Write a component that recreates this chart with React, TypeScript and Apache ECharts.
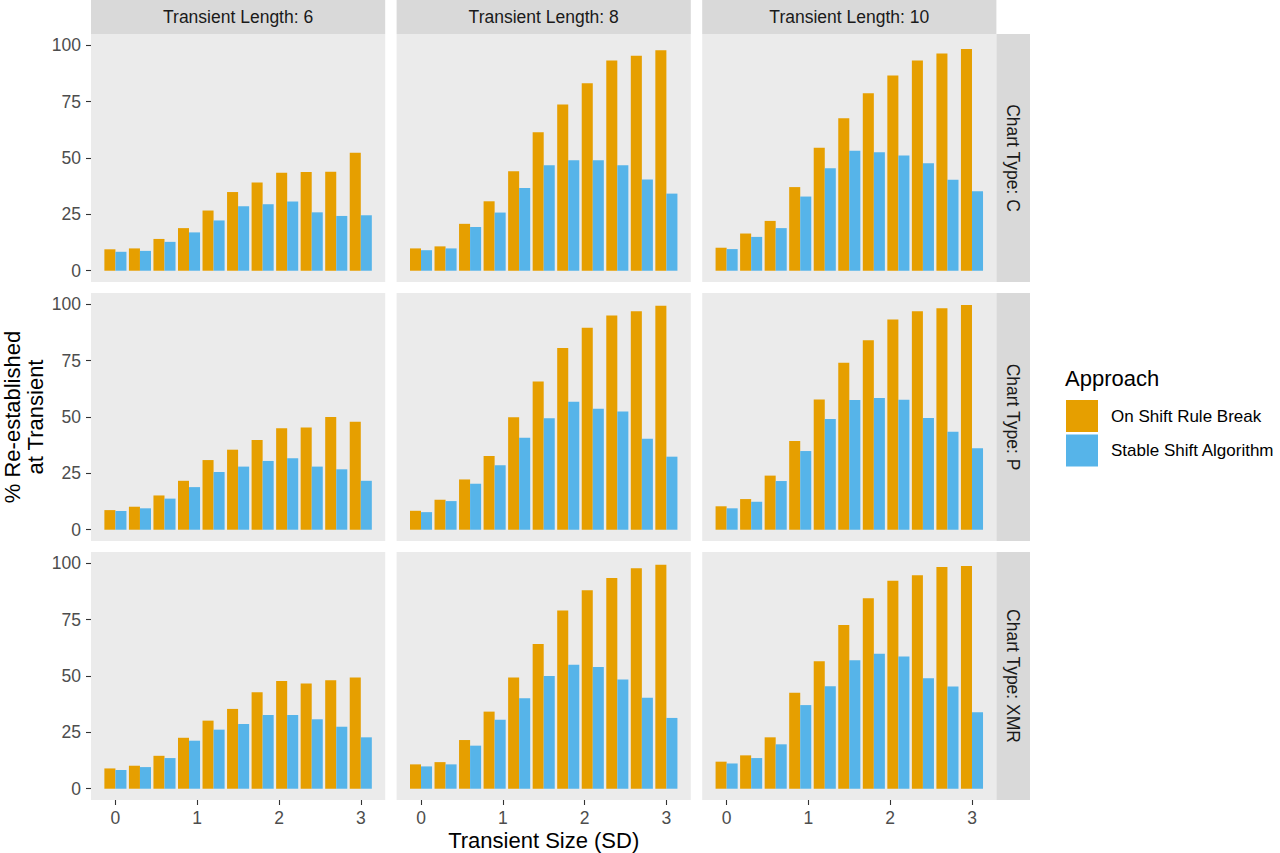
import React, { useEffect, useRef } from "react";
import * as echarts from "echarts";

// ---------- data ----------
const transientSizes = [0, 0.3, 0.6, 0.9, 1.2, 1.5, 1.8, 2.1, 2.4, 2.7, 3.0];
const lengthLabels = ["Transient Length: 6", "Transient Length: 8", "Transient Length: 10"];
const chartTypeLabels = ["Chart Type: C", "Chart Type: P", "Chart Type: XMR"];
const approaches = ["On Shift Rule Break", "Stable Shift Algorithm"];
const yTicks = [0, 25, 50, 75, 100];
const xTicks = [0, 1, 2, 3];

const cL6Rule = [9.5, 9.9, 14.1, 18.9, 26.7, 34.9, 39.1, 43.5, 43.8, 43.9, 52.3];
const cL6Stable = [8.4, 8.8, 12.8, 17.0, 22.3, 28.6, 29.5, 30.7, 25.9, 24.3, 24.6];
const cL8Rule = [9.9, 10.8, 20.8, 30.8, 44.1, 61.4, 73.7, 83.2, 93.2, 95.4, 97.8];
const cL8Stable = [9.1, 9.9, 19.4, 25.8, 36.7, 46.8, 49.0, 49.0, 46.8, 40.5, 34.2];
const cL10Rule = [10.2, 16.5, 22.1, 37.1, 54.5, 67.6, 78.7, 86.6, 93.2, 96.3, 98.4];
const cL10Stable = [9.6, 15.0, 18.9, 32.9, 45.4, 53.2, 52.5, 51.1, 47.7, 40.4, 35.2];

const pL6Rule = [8.7, 10.2, 15.2, 21.7, 30.9, 35.5, 39.8, 45.0, 45.3, 50.0, 47.9];
const pL6Stable = [8.3, 9.5, 13.8, 18.9, 25.6, 28.0, 30.5, 31.7, 28.0, 26.8, 21.7];
const pL8Rule = [8.4, 13.3, 22.3, 32.7, 49.9, 65.8, 80.6, 89.6, 95.0, 96.9, 99.3];
const pL8Stable = [7.8, 12.7, 20.4, 28.6, 40.8, 49.4, 56.8, 53.7, 52.4, 40.4, 32.4];
const pL10Rule = [10.4, 13.6, 24.0, 39.3, 57.8, 74.1, 84.0, 93.2, 96.9, 98.2, 99.7];
const pL10Stable = [9.5, 12.4, 21.6, 34.9, 49.1, 57.5, 58.4, 57.7, 49.6, 43.5, 36.1];

const xmrL6Rule = [9.0, 10.2, 14.6, 22.6, 30.2, 35.4, 42.8, 47.8, 46.7, 48.1, 49.3];
const xmrL6Stable = [8.3, 9.6, 13.6, 21.3, 26.2, 28.7, 32.7, 32.7, 30.8, 27.5, 22.8];
const xmrL8Rule = [10.8, 11.8, 21.6, 34.2, 49.3, 64.2, 79.0, 88.0, 93.5, 97.8, 99.3];
const xmrL8Stable = [9.9, 10.8, 19.1, 30.6, 40.1, 50.0, 55.0, 54.0, 48.5, 40.4, 31.4];
const xmrL10Rule = [12.0, 14.8, 22.8, 42.6, 56.5, 72.6, 84.5, 92.3, 94.7, 98.4, 98.8];
const xmrL10Stable = [11.2, 13.6, 19.7, 37.1, 45.4, 57.0, 59.9, 58.7, 49.0, 45.3, 33.9];

// rows: chart type, cols: transient length, [rule, stable]
const panelData = [
  [[cL6Rule, cL6Stable], [cL8Rule, cL8Stable], [cL10Rule, cL10Stable]],
  [[pL6Rule, pL6Stable], [pL8Rule, pL8Stable], [pL10Rule, pL10Stable]],
  [[xmrL6Rule, xmrL6Stable], [xmrL8Rule, xmrL8Stable], [xmrL10Rule, xmrL10Stable]],
];

// ---------- layout / style ----------
const FONT = "'Liberation Sans', Arial, Helvetica, sans-serif";
const COLORS = ["#E69F00", "#56B4E9"];
const PANEL_LEFT = 91;
const PANEL_W = 294.2;
const COL_GAP = 11.4;
const PANEL_TOP = 34;
const PANEL_H = 248;
const ROW_GAP = 11;
const STRIP = 33.6;
const X_MIN = -0.2985;
const X_MAX = 3.2985;
const Y_MIN = -5;
const Y_MAX = 105;
const BAR_UNIT = 0.135;

export default function App() {
  const ref = useRef<HTMLDivElement>(null);

  useEffect(() => {
    document.body.style.margin = "0";
    if (!ref.current) return;
    const chart = echarts.init(ref.current, undefined, { renderer: "svg" });

    const grids: any[] = [];
    const xAxes: any[] = [];
    const yAxes: any[] = [];
    const series: any[] = [];
    const graphics: any[] = [];
    const barPx = (PANEL_W / (X_MAX - X_MIN)) * BAR_UNIT;

    for (let r = 0; r < 3; r++) {
      for (let c = 0; c < 3; c++) {
        const idx = r * 3 + c;
        const left = PANEL_LEFT + c * (PANEL_W + COL_GAP);
        const top = PANEL_TOP + r * (PANEL_H + ROW_GAP);
        grids.push({
          left,
          top,
          width: PANEL_W,
          height: PANEL_H,
          show: true,
          backgroundColor: "#EBEBEB",
          borderWidth: 0,
          containLabel: false,
        });
        const bottom = r === 2;
        const leftCol = c === 0;
        xAxes.push({
          type: "value",
          gridIndex: idx,
          position: "bottom",
          min: X_MIN,
          max: X_MAX,
          axisLine: { show: false, onZero: false },
          splitLine: { show: false },
          axisTick: {
            show: bottom,
            customValues: xTicks,
            length: 5,
            lineStyle: { color: "#333333", width: 1.1 },
          },
          axisLabel: {
            show: bottom,
            customValues: xTicks,
            color: "#4D4D4D",
            fontSize: 17.5,
            fontFamily: FONT,
            margin: 9,
          },
        });
        yAxes.push({
          type: "value",
          gridIndex: idx,
          position: "left",
          min: Y_MIN,
          max: Y_MAX,
          axisLine: { show: false, onZero: false },
          splitLine: { show: false },
          axisTick: {
            show: leftCol,
            customValues: yTicks,
            length: 5,
            lineStyle: { color: "#333333", width: 1.1 },
          },
          axisLabel: {
            show: leftCol,
            customValues: yTicks,
            color: "#4D4D4D",
            fontSize: 17.5,
            fontFamily: FONT,
            margin: 10,
          },
        });
        for (let s = 0; s < 2; s++) {
          const vals = panelData[r][c][s];
          series.push({
            type: "bar",
            name: approaches[s],
            xAxisIndex: idx,
            yAxisIndex: idx,
            data: transientSizes.map((x, i) => [x, vals[i]]),
            barWidth: barPx,
            barGap: "0%",
            itemStyle: { color: COLORS[s] },
            silent: true,
          });
        }
      }
    }

    // top strips
    for (let c = 0; c < 3; c++) {
      const left = PANEL_LEFT + c * (PANEL_W + COL_GAP);
      graphics.push({
        type: "rect",
        shape: { x: left, y: 0, width: PANEL_W, height: PANEL_TOP },
        style: { fill: "#D9D9D9" },
        silent: true,
      });
      graphics.push({
        type: "text",
        x: left + PANEL_W / 2,
        y: PANEL_TOP / 2,
        style: {
          text: lengthLabels[c],
          fontSize: 17.5,
          fontFamily: FONT,
          fill: "#1A1A1A",
          align: "center",
          verticalAlign: "middle",
        },
        silent: true,
      });
    }
    // right strips
    const stripX = PANEL_LEFT + 3 * PANEL_W + 2 * COL_GAP;
    for (let r = 0; r < 3; r++) {
      const top = PANEL_TOP + r * (PANEL_H + ROW_GAP);
      graphics.push({
        type: "rect",
        shape: { x: stripX, y: top, width: STRIP, height: PANEL_H },
        style: { fill: "#D9D9D9" },
        silent: true,
      });
      graphics.push({
        type: "text",
        x: stripX + STRIP / 2,
        y: top + PANEL_H / 2,
        rotation: -Math.PI / 2,
        style: {
          text: chartTypeLabels[r],
          fontSize: 17.5,
          fontFamily: FONT,
          fill: "#1A1A1A",
          align: "center",
          verticalAlign: "middle",
        },
        silent: true,
      });
    }
    // axis titles
    const panelsRight = stripX;
    graphics.push({
      type: "text",
      x: (PANEL_LEFT + panelsRight) / 2,
      y: 840,
      style: {
        text: "Transient Size (SD)",
        fontSize: 22,
        fontFamily: FONT,
        fill: "#000000",
        align: "center",
        verticalAlign: "middle",
      },
      silent: true,
    });
    graphics.push({
      type: "text",
      x: 24,
      y: PANEL_TOP + (3 * PANEL_H + 2 * ROW_GAP) / 2,
      rotation: Math.PI / 2,
      style: {
        text: "% Re-established\nat Transient",
        fontSize: 22,
        lineHeight: 23.5,
        fontFamily: FONT,
        fill: "#000000",
        align: "center",
        verticalAlign: "middle",
      },
      silent: true,
    });
    // legend title
    graphics.push({
      type: "text",
      x: 1065,
      y: 378,
      style: {
        text: "Approach",
        fontSize: 22,
        fontFamily: FONT,
        fill: "#000000",
        align: "left",
        verticalAlign: "middle",
      },
      silent: true,
    });

    chart.setOption({
      animation: false,
      grid: grids,
      xAxis: xAxes,
      yAxis: yAxes,
      series,
      legend: {
        orient: "vertical",
        left: 1066,
        top: 400,
        padding: 0,
        itemWidth: 32,
        itemHeight: 32,
        itemGap: 2.5,
        icon: "rect",
        selectedMode: false,
        data: approaches,
        textStyle: {
          fontSize: 17,
          fontFamily: FONT,
          color: "#000000",
          padding: [0, 0, 0, 8],
        },
      },
      graphic: graphics,
    });

    return () => {
      chart.dispose();
    };
  }, []);

  return <div ref={ref} style={{ width: 1280, height: 853 }} />;
}
